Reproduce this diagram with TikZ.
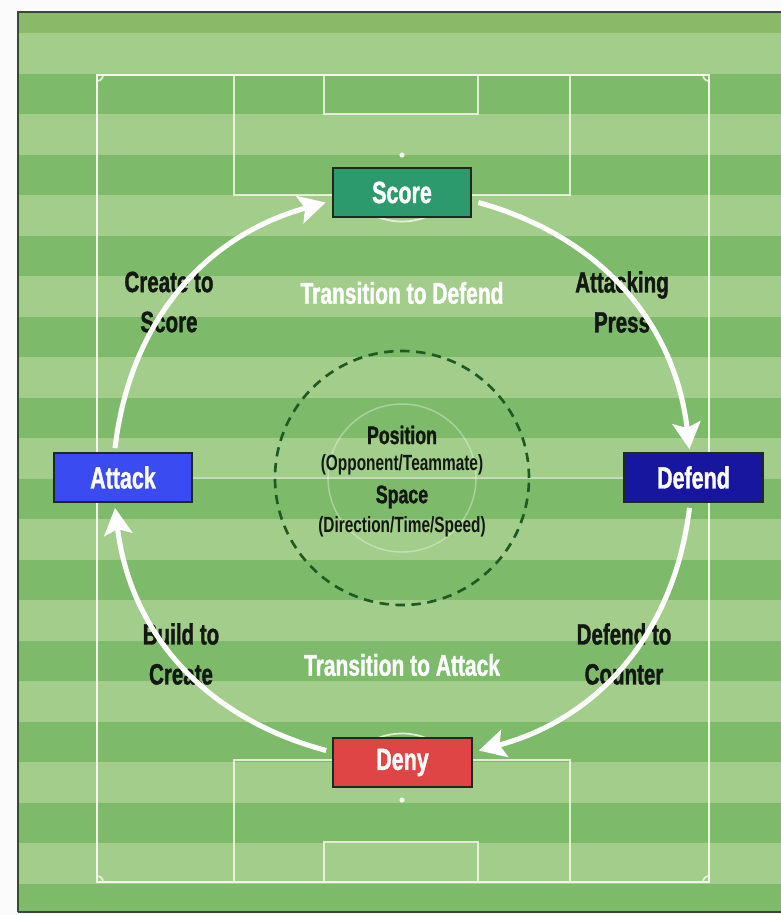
\documentclass[tikz,border=0pt]{standalone}
\usepackage{fontspec}
\newfontfamily\cond[FakeStretch=0.7]{Liberation Sans}
\newfontfamily\condh[FakeStretch=0.7, FakeBold=1.2]{Liberation Sans}
\usetikzlibrary{arrows.meta,calc}
\definecolor{bgwhite}{HTML}{FAFBFA}
\definecolor{frameC}{HTML}{3A463A}
\definecolor{topstrip}{HTML}{8AB968}
\definecolor{darkS}{HTML}{7DBB6B}
\definecolor{lightS}{HTML}{A3CD8B}
\definecolor{lineC}{HTML}{F2F8E6}
\definecolor{scoreC}{HTML}{2C9A6C}
\definecolor{attackC}{HTML}{3A4BF2}
\definecolor{defendC}{HTML}{16169E}
\definecolor{denyC}{HTML}{E04545}
\definecolor{boxline}{HTML}{1C2A20}
\definecolor{labtext}{HTML}{121812}
\definecolor{coreC}{HTML}{1E5A22}
\begin{document}
\begin{tikzpicture}[x=0.75pt,y=-0.75pt,
  box/.style={draw=boxline, line width=1.5pt, minimum width=104pt, minimum height=36.5pt,
    inner sep=0pt, text=white, font=\condh\bfseries\fontsize{23}{23}\selectfont},
  lab/.style={text=labtext, align=center, font=\condh\bfseries\fontsize{22}{30}\selectfont},
  trans/.style={text=white, font=\condh\bfseries\fontsize{22.5}{24}\selectfont},
  corebig/.style={text=labtext, font=\condh\bfseries\fontsize{19}{20}\selectfont},
  coresmall/.style={text=labtext, font=\cond\bfseries\fontsize{16.5}{18}\selectfont},
  pitch/.style={draw=lineC, line width=2.2pt},
  pitchthin/.style={draw=lineC, line width=1.3pt, draw opacity=0.85},
  faint/.style={draw=white, line width=1.1pt, draw opacity=0.35},
  arr/.style={draw=white, line width=3.8pt, -{Stealth[length=20pt, width=21pt, inset=4pt]}},
  core/.style={circle, draw=coreC, line width=2pt, dash pattern=on 7pt off 5pt, minimum size=190.5pt, inner sep=0pt}
]
% canvas
\fill[bgwhite] (0,0) rectangle (781,915);
\useasboundingbox (0,0) rectangle (781,915);
% field stripes
\fill[darkS] (18,12) rectangle (781,912);
\fill[topstrip] (18,12) rectangle (781,33);
\foreach \k in {0,...,10}{
  \fill[lightS] (18,{33+81*\k}) rectangle (781,{73.5+81*\k});
}
\draw[frameC, line width=1.6pt] (18,912) -- (18,12) -- (781,12);
\draw[frameC, line width=1.6pt] (18,912) -- (781,912);
% pitch markings
\draw[pitch] (97,75) rectangle (709,882);
\draw[faint] (97,478) -- (709,478);
\draw[faint] (402,478) circle[radius=74];
\draw[pitchthin] (234,75) rectangle (570,195);
\draw[pitchthin] (324,75) rectangle (478,114);
\draw[pitchthin] (234,760) rectangle (570,882);
\draw[pitchthin] (324,842) rectangle (478,882);
\fill[lineC] (402,155) circle[radius=2.6];
\fill[lineC] (402,800) circle[radius=2.6];
\begin{scope}
  \clip (97,195) rectangle (709,300);
  \draw[pitchthin] (402,155) circle[radius=66.5];
\end{scope}
\begin{scope}
  \clip (97,660) rectangle (709,760);
  \draw[pitchthin] (402,800) circle[radius=66.5];
\end{scope}
\begin{scope}
  \clip (97,75) rectangle (709,882);
  \draw[pitchthin] (97,75) circle[radius=6];
  \draw[pitchthin] (709,75) circle[radius=6];
  \draw[pitchthin] (97,882) circle[radius=6];
  \draw[pitchthin] (709,882) circle[radius=6];
\end{scope}
% central circle and text
\node[core] (core) at (402,478) {};
\node[corebig] (pos) at (402,435) {Position};
\node[coresmall] (posd) at (402,465) {(Opponent/Teammate)};
\node[corebig] (spc) at (402,497) {Space};
\node[coresmall] (spcd) at (402,527) {(Direction/Time/Speed)};
% labels
\node[trans] (tdef) at (402,293) {Transition to Defend};
\node[trans] (tatt) at (402,665) {Transition to Attack};
\node[lab] (l1) at (169,302) {Create to\\Score};
\node[lab] (l2) at (622,302) {Attacking\\Press};
\node[lab] (l3) at (181,654) {Build to\\Create};
\node[lab] (l4) at (624,654) {Defend to\\Counter};
% boxes
\node[box, fill=scoreC] (score) at (402,192.5) {Score};
\node[box, fill=attackC] (attack) at (123,477.5) {Attack};
\node[box, fill=defendC] (defend) at (693.5,477.5) {Defend};
\node[box, fill=denyC] (deny) at (402.5,762.5) {Deny};
% cycle arrows
\draw[arr] ($(attack.north)+(-8,-4)$) to[bend left=34] ($(score.west)+(-6,10)$);
\draw[arr] ($(score.east)+(6,10)$) to[bend left=34] ($(defend.north)+(-4,-3)$);
\draw[arr] ($(defend.south)+(-4,5)$) to[bend left=34] ($(deny.east)+(6,-12)$);
\draw[arr] ($(deny.west)+(-6,-12)$) to[bend left=34] ($(attack.south)+(-8,5)$);
\end{tikzpicture}
\end{document}
